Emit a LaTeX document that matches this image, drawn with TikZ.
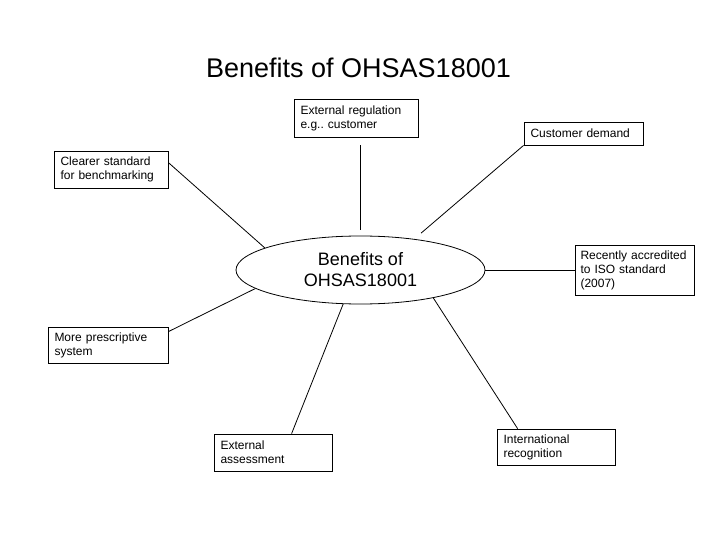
\documentclass[tikz,border=0pt]{standalone}
\usepackage{fontspec}
\setmainfont{Liberation Sans}
\usetikzlibrary{shapes.geometric,positioning}
\hyphenpenalty=10000
\frenchspacing

\begin{document}
\begin{tikzpicture}[x=1pt,y=-1pt,
    box/.style={draw,rectangle,line width=0.8pt,inner xsep=6.5pt,inner ysep=0pt,align=left,
                font=\fontsize{12}{14}\selectfont},
    link/.style={line width=0.8pt}]
        \fill[white] (0,0) rectangle (720,540);
        \useasboundingbox (0,0) rectangle (720,540);
        \node[font=\fontsize{27}{30}\selectfont] (title) at (358.5,68) {Benefits of OHSAS18001};
        % centre
        \node[ellipse,draw,line width=0.8pt,minimum width=249pt,minimum height=68pt,inner sep=0pt,
              align=center,font=\fontsize{18}{21}\selectfont] (ohsas) at (360.5,270) {Benefits of\\OHSAS18001};
        % the benefits
        \node[box,minimum width=124pt,text width=111pt,minimum height=38pt] (extreg) at (356,118) {External regulation\\e.g.. customer};
        \node[box,minimum width=119pt,text width=106pt,minimum height=23pt] (custdem) at (583.5,133.5) {Customer demand};
        \node[box,minimum width=114pt,text width=101pt,minimum height=37pt] (clearer) at (111,169.5) {Clearer standard\\for benchmarking};
        \node[box,minimum width=119pt,text width=108pt,inner xsep=5.5pt,minimum height=50pt] (recent) at (634.5,270) {Recently accredited\\to ISO standard\\(2007)};
        \node[box,minimum width=120pt,text width=107pt,minimum height=36pt] (prescr) at (108,345) {More prescriptive\\system};
        \node[box,minimum width=118pt,text width=105pt,minimum height=37pt] (extass) at (273,452.5) {External\\assessment};
        \node[box,minimum width=118pt,text width=105pt,minimum height=36pt] (intl) at (556,447) {International\\recognition};
        % spokes
        \draw[link,shorten <=8pt,shorten >=6pt] (ohsas.north |- extreg.south) -- (ohsas.north);
        \draw[link,shorten >=9pt] (custdem.south west) -- (ohsas.30);
        \draw[link] ([yshift=-12pt]clearer.north east) -- (ohsas.167);
        \draw[link] (ohsas.east) -- (recent.west);
        \draw[link] ([yshift=-5pt]prescr.north east) -- (ohsas.190);
        \draw[link] ([xshift=78pt]extass.north west) -- (ohsas.243);
        \draw[link] ([xshift=21pt]intl.north west) -- (ohsas.339);
      \end{tikzpicture}
\end{document}
